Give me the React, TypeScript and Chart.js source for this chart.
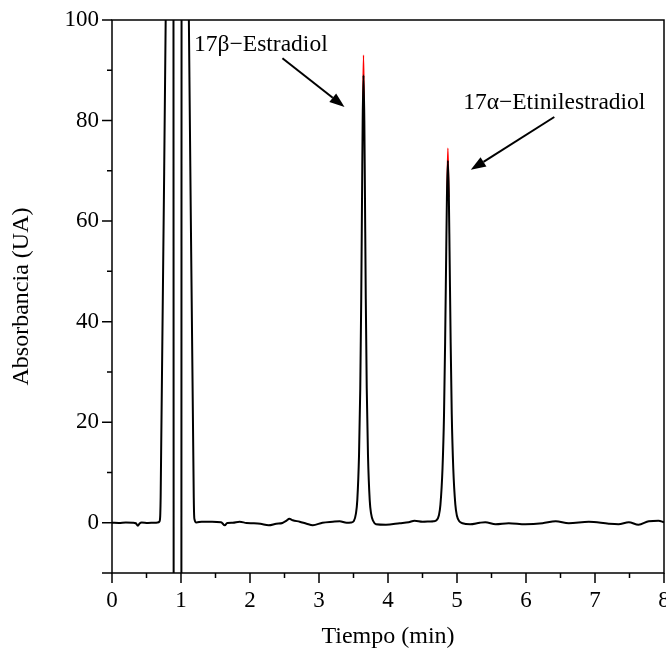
import React, { useEffect, useRef } from "react";
import { Chart, registerables } from "chart.js";

Chart.register(...registerables);

// Chromatogram trace (black)
const TIME = [
  0.0, 0.1, 0.2, 0.3, 0.345, 0.375, 0.4, 0.43, 0.52, 0.6, 0.66, 0.685, 0.695, 0.7, 0.705, 0.778, 0.8,
  0.89, 0.894, 1.005, 1.009, 1.09, 1.114, 1.185, 1.19, 1.197, 1.207, 1.225, 1.3, 1.45, 1.58, 1.635,
  1.67, 1.75, 1.85, 1.95, 2.05, 2.15, 2.27, 2.38, 2.47, 2.53, 2.57, 2.62, 2.72, 2.82, 2.91,
  3.05, 3.2, 3.3, 3.4, 3.465, 3.505, 3.535, 3.555, 3.58, 3.598, 3.612, 3.625, 3.633, 3.645,
  3.657, 3.665, 3.678, 3.692, 3.71, 3.735, 3.755, 3.785, 3.825, 3.97, 4.17, 4.3, 4.385, 4.5,
  4.6, 4.66, 4.703, 4.738, 4.76, 4.79, 4.812, 4.828, 4.844, 4.854, 4.868, 4.882, 4.892, 4.908,
  4.924, 4.946, 4.976, 4.998, 5.033, 5.08, 5.19, 5.33, 5.41, 5.56, 5.75, 5.99, 6.24, 6.43,
  6.62, 6.91, 7.2, 7.34, 7.49, 7.63, 7.78, 7.92, 8.0,
];
const ABSORBANCE = [
  0.0, -0.05, 0.05, 0.0, -0.1, -0.6, -0.15, 0.05, -0.05, 0.0, 0.05, 0.2, 0.6, 1.8, 5, 100, 130,
  150, -40, -40, 150, 130, 100, 5, 1.6, 0.6, 0.2, 0.05, 0.2, 0.2, 0.1, -0.5,
  -0.05, 0.0, 0.2, -0.05, -0.1, -0.2, -0.5, -0.2, -0.05, 0.4, 0.8, 0.5, 0.2, -0.2, -0.5,
  0.0, 0.2, 0.3, 0.0, 0.05, 0.35, 1.8, 4.5, 13.4, 26.7, 44.5, 67, 80, 89,
  80, 67, 44.5, 26.7, 13.4, 4.5, 1.8, 0.35, -0.3, -0.4, -0.1, 0.1, 0.4, 0.2,
  0.25, 0.3, 0.5, 1.5, 3.6, 10.8, 21.6, 36, 54, 64.8, 72, 64.8, 54, 36,
  21.6, 10.8, 3.6, 1.44, 0.3, -0.1, -0.3, 0.0, 0.1, -0.3, -0.1, -0.3, -0.1, 0.3,
  -0.1, 0.2, -0.2, -0.3, 0.1, -0.4, 0.3, 0.4, 0.1,
];

// Second (red) trace, only visible at the peak tips
const TIP_TIME = [3.633, 3.645, 3.657, 3.7, 4.854, 4.868, 4.882];
const TIP_ABSORBANCE = [80, 93, 80, null, 64.8, 74.5, 64.8];

const X_MAJOR = [0, 1, 2, 3, 4, 5, 6, 7, 8];
const X_MINOR = [0.5, 1.5, 2.5, 3.5, 4.5, 5.5, 6.5, 7.5];
const Y_MAJOR = [-10, 0, 20, 40, 60, 80, 100];
const Y_LABELED = [0, 20, 40, 60, 80, 100];
const Y_MINOR = [10, 30, 50, 70, 90];

const X_TITLE = "Tiempo (min)";
const Y_TITLE = "Absorbancia (UA)";

const ANNOTATION_TEXT = ["17β−Estradiol", "17α−Etinilestradiol"];
const ANNOTATION_TEXT_POS = [
  [1.19, 95.0],
  [6.41, 83.5],
];
const ANNOTATION_ALIGN = ["left", "center"];
const ARROW_FROM = [
  [2.47, 92.4],
  [6.41, 80.7],
];
const ARROW_TO = [
  [3.37, 82.7],
  [5.2, 70.2],
];

const FONT = '"Liberation Serif", "Times New Roman", serif';

const axesPlugin = {
  id: "axesPlugin",
  afterDraw(chart: any) {
    const { ctx, chartArea } = chart;
    const xs = chart.scales.x;
    const ys = chart.scales.y;
    const { left, right, top, bottom } = chartArea;
    ctx.save();
    ctx.strokeStyle = "#000";
    ctx.fillStyle = "#000";
    ctx.lineWidth = 1.5;
    ctx.strokeRect(left, top, right - left, bottom - top);

    ctx.beginPath();
    X_MAJOR.forEach((v) => {
      const p = xs.getPixelForValue(v);
      ctx.moveTo(p, bottom);
      ctx.lineTo(p, bottom + 10);
    });
    X_MINOR.forEach((v) => {
      const p = xs.getPixelForValue(v);
      ctx.moveTo(p, bottom);
      ctx.lineTo(p, bottom + 5);
    });
    Y_MAJOR.forEach((v) => {
      const p = ys.getPixelForValue(v);
      ctx.moveTo(left, p);
      ctx.lineTo(left - 10, p);
    });
    Y_MINOR.forEach((v) => {
      const p = ys.getPixelForValue(v);
      ctx.moveTo(left, p);
      ctx.lineTo(left - 5, p);
    });
    ctx.stroke();

    ctx.font = `23px ${FONT}`;
    ctx.textAlign = "center";
    ctx.textBaseline = "middle";
    X_MAJOR.forEach((v) => {
      ctx.fillText(String(v), xs.getPixelForValue(v), bottom + 28);
    });
    ctx.textAlign = "right";
    Y_LABELED.forEach((v) => {
      ctx.fillText(String(v), left - 13, ys.getPixelForValue(v));
    });

    ctx.font = `24px ${FONT}`;
    ctx.textAlign = "center";
    ctx.fillText(X_TITLE, (left + right) / 2, bottom + 64);
    ctx.save();
    ctx.translate(22, (top + bottom) / 2);
    ctx.rotate(-Math.PI / 2);
    ctx.fillText(Y_TITLE, 0, 0);
    ctx.restore();

    ctx.font = `23.5px ${FONT}`;
    ANNOTATION_TEXT.forEach((t, i) => {
      ctx.textAlign = ANNOTATION_ALIGN[i] as CanvasTextAlign;
      ctx.fillText(
        t,
        xs.getPixelForValue(ANNOTATION_TEXT_POS[i][0]),
        ys.getPixelForValue(ANNOTATION_TEXT_POS[i][1])
      );
      const x1 = xs.getPixelForValue(ARROW_FROM[i][0]);
      const y1 = ys.getPixelForValue(ARROW_FROM[i][1]);
      const x2 = xs.getPixelForValue(ARROW_TO[i][0]);
      const y2 = ys.getPixelForValue(ARROW_TO[i][1]);
      const ang = Math.atan2(y2 - y1, x2 - x1);
      const headLen = 15;
      const headW = 5.5;
      const bx = x2 - headLen * Math.cos(ang);
      const by = y2 - headLen * Math.sin(ang);
      ctx.lineWidth = 2;
      ctx.beginPath();
      ctx.moveTo(x1, y1);
      ctx.lineTo(bx, by);
      ctx.stroke();
      ctx.beginPath();
      ctx.moveTo(x2, y2);
      ctx.lineTo(bx + headW * Math.sin(ang), by - headW * Math.cos(ang));
      ctx.lineTo(bx - headW * Math.sin(ang), by + headW * Math.cos(ang));
      ctx.closePath();
      ctx.fill();
    });
    ctx.restore();
  },
};

export default function App() {
  const ref = useRef<HTMLCanvasElement>(null);
  useEffect(() => {
    if (!ref.current) return;
    const chart = new Chart(ref.current, {
      type: "line",
      data: {
        datasets: [
          {
            data: TIME.map((x, i) => ({ x, y: ABSORBANCE[i] })),
            borderColor: "#000",
            borderWidth: 2,
            pointRadius: 0,
            cubicInterpolationMode: "monotone",
            order: 0,
          },
          {
            data: TIP_TIME.map((x, i) => ({ x, y: TIP_ABSORBANCE[i] })),
            borderColor: "#ff0000",
            borderWidth: 1.4,
            pointRadius: 0,
            spanGaps: false,
            cubicInterpolationMode: "monotone",
            order: 1,
          },
        ],
      },
      plugins: [axesPlugin],
      options: {
        animation: false,
        responsive: false,
        maintainAspectRatio: false,
        events: [],
        layout: { padding: { left: 112, top: 20, right: 2, bottom: 80 } },
        plugins: { legend: { display: false }, tooltip: { enabled: false } },
        scales: {
          x: { type: "linear", min: 0, max: 8, display: false },
          y: { type: "linear", min: -10, max: 100, display: false },
        },
      },
    } as any);
    return () => chart.destroy();
  }, []);
  return (
    <div style={{ position: "fixed", left: 0, top: 0, width: 666, height: 653, background: "#fff" }}>
      <canvas ref={ref} width={666} height={653} style={{ display: "block", width: 666, height: 653 }} />
    </div>
  );
}
